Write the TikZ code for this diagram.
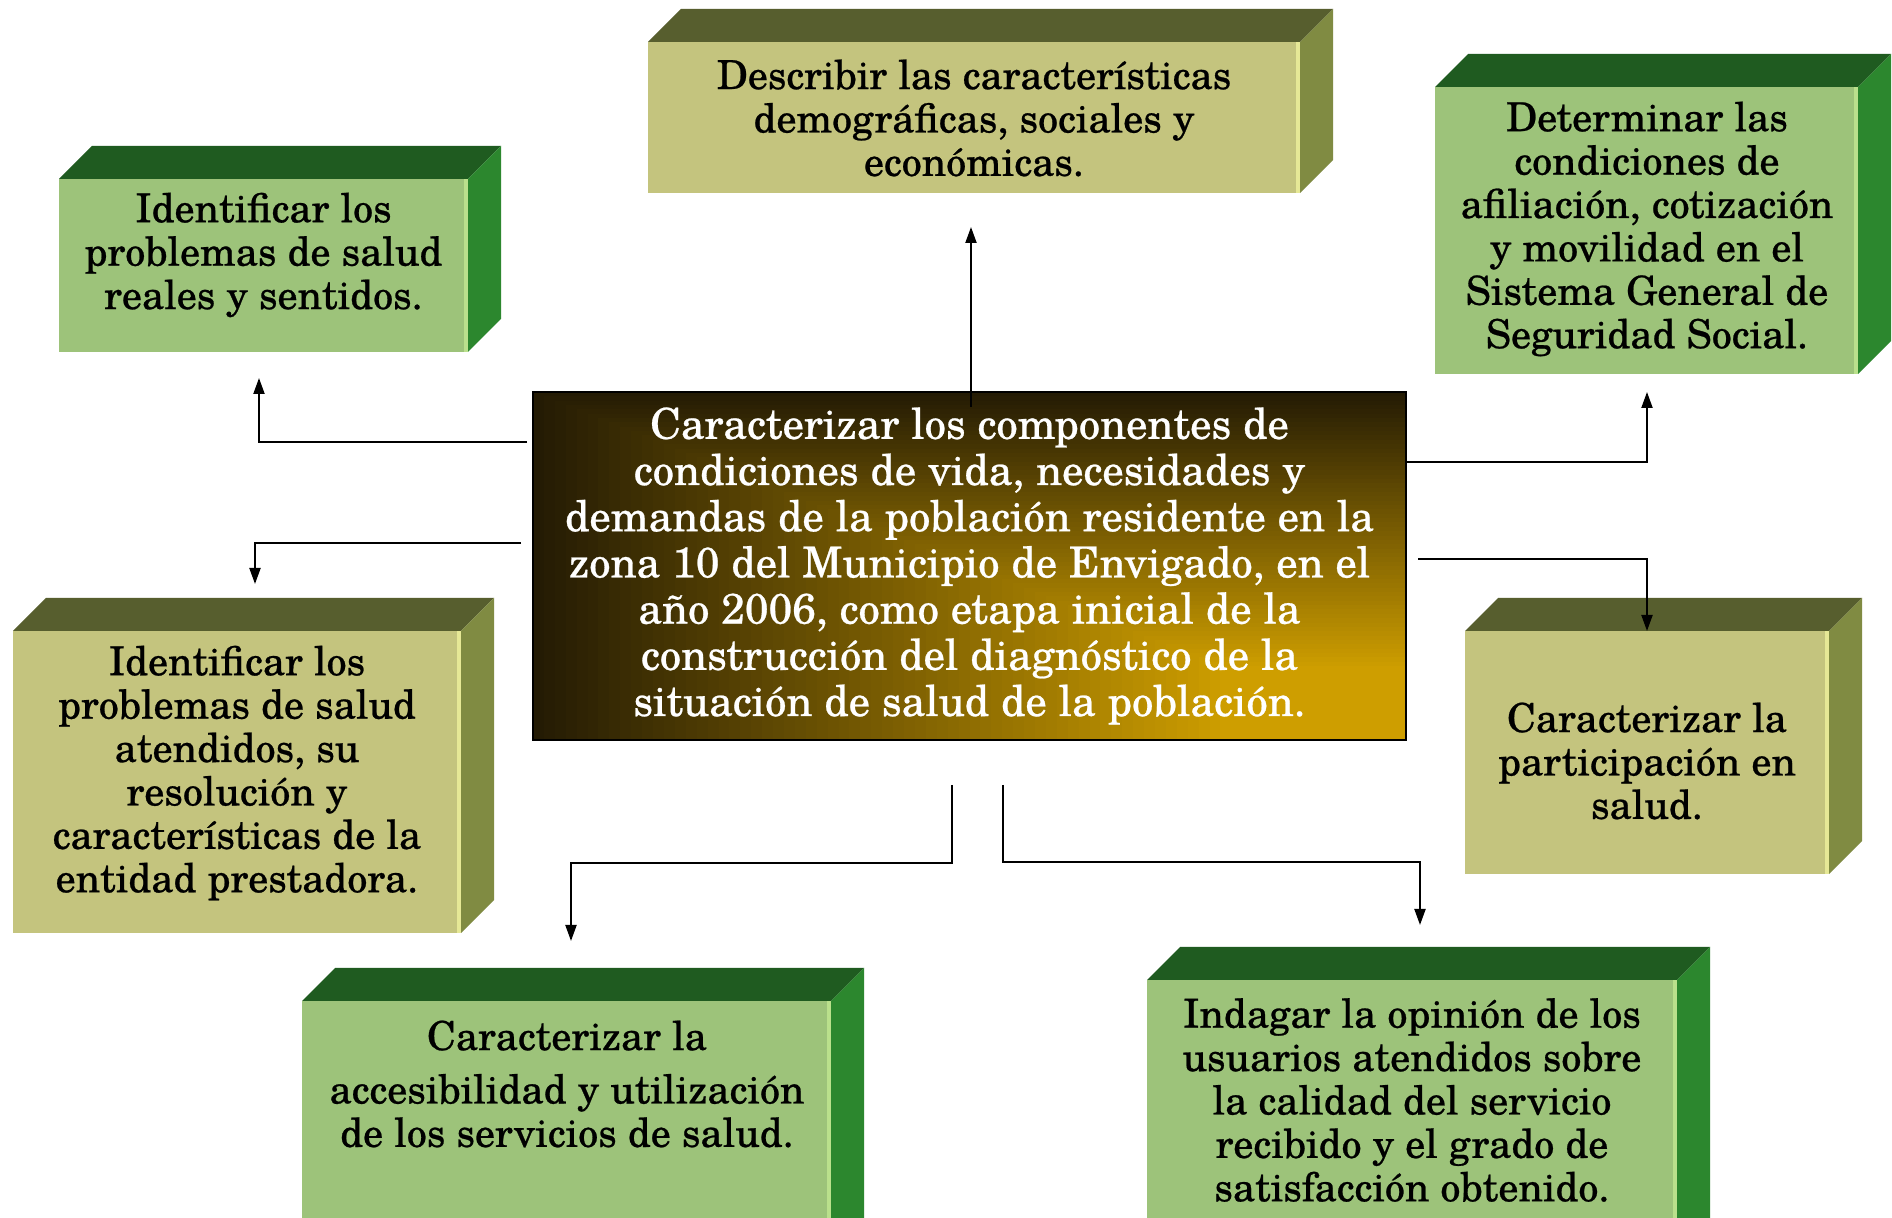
\documentclass[tikz,border=0pt]{standalone}
\usepackage{fontspec}
\setmainfont{texgyreschola-regular.otf}[BoldFont=texgyreschola-bold.otf, FakeBold=0.6]
\usetikzlibrary{arrows.meta}
\definecolor{gfront}{RGB}{157,195,122}
\definecolor{gtop}{RGB}{31,91,32}
\definecolor{gside}{RGB}{44,135,46}
\definecolor{gedge}{RGB}{186,224,140}
\definecolor{ofront}{RGB}{196,196,126}
\definecolor{otop}{RGB}{87,94,46}
\definecolor{oside}{RGB}{128,139,66}
\definecolor{oedge}{RGB}{230,232,150}
\definecolor{cdark}{RGB}{36,27,4}
\definecolor{cgold}{RGB}{206,158,0}
\newcommand\mycube[5]{%
  \fill[#1top] (#2,#3) -- (#2+33,#3-33) -- (#4+33,#3-33) -- (#4,#3) -- cycle;
  \fill[#1side] (#4,#3) -- (#4+33,#3-33) -- (#4+33,#5-33) -- (#4,#5) -- cycle;
  \fill[#1front] (#2,#3) rectangle (#4,#5);
  \fill[#1edge] (#4-4,#3) rectangle (#4,#5);
}
\tikzset{
  boxtext/.style={align=center, inner sep=0pt, font=\fontsize{20}{21.7}\selectfont},
  centertext/.style={align=center, text=white, draw=black, line width=1.3pt,
    minimum width=436.5pt, minimum height=174pt, inner sep=0pt,
    font=\fontsize{21.3}{23.1}\selectfont},
  conn/.style={line width=1pt, -{Triangle[length=8pt,width=5.5pt]}}
}
\begin{document}
\begin{tikzpicture}[x=0.5pt,y=-0.5pt]
\useasboundingbox (0,0) rectangle (1892,1218);
\clip (0,0) rectangle (1892,1218);
\fill[white] (0,0) rectangle (1892,1218);

% boxes
\mycube{g}{59}{179}{468}{352}
\node[boxtext] (A) at (263.5,255) {Identificar los\\problemas de salud\\reales y sentidos.};

\mycube{o}{648}{42}{1300}{193}
\node[boxtext] (B) at (974,118) {Describir las características\\demográficas, sociales y\\económicas.};

\mycube{g}{1435}{87}{1858}{374}
\node[boxtext] (C) at (1647,229) {Determinar las\\condiciones de\\afiliación, cotización\\y movilidad en el\\Sistema General de\\Seguridad Social.};

\mycube{o}{13}{631}{461}{933}
\node[boxtext] (E) at (237,773) {Identificar los\\problemas de salud\\atendidos, su\\resolución y\\características de la\\entidad prestadora.};

\mycube{o}{1465}{631}{1829}{874}
\node[boxtext] (F) at (1647,761) {Caracterizar la\\participación en\\salud.};

\mycube{g}{302}{1001}{831}{1300}
\node[boxtext] (G) at (567,1084) {Caracterizar la\\[5pt]accesibilidad y utilización\\de los servicios de salud.};

\mycube{g}{1147}{980}{1677}{1300}
\node[boxtext] (H) at (1412,1100) {Indagar la opinión de los\\usuarios atendidos sobre\\la calidad del servicio\\recibido y el grado de\\satisfacción obtenido.};

% central box: rectangular gradient from the bottom-right corner
\foreach \i in {0,...,79}{
  \pgfmathsetmacro\t{1-\i/80}
  \pgfmathsetmacro\p{min(100,125*\i/79)}
  \fill[cgold!\p!cdark] (1406-873*\t,740-348*\t) rectangle (1406,740);
}
\node[centertext] (D) at (969.5,566) {Caracterizar los componentes de\\condiciones de vida, necesidades y\\demandas de la población residente en la\\zona 10 del Municipio de Envigado, en el\\año 2006, como etapa inicial de la\\construcción del diagnóstico de la\\situación de salud de la población.};

% connector points
\coordinate (s1) at (971,407);  \coordinate (t1) at (971,227);
\coordinate (s2) at (527,442);  \coordinate (t2) at (259,378);
\coordinate (s3) at (521,543);  \coordinate (t3) at (255,584);
\coordinate (s4) at (1406,462); \coordinate (t4) at (1647,392);
\coordinate (s5) at (1418,559); \coordinate (t5) at (1647,631);
\coordinate (s6) at (952,785);  \coordinate (t6) at (571,941);
\coordinate (s7) at (1003,785); \coordinate (t7) at (1420,925);

\draw[conn] (s1) -- (t1);
\draw[conn] (s2) -| (t2);
\draw[conn] (s3) -| (t3);
\draw[conn] (s4) -| (t4);
\draw[conn] (s5) -| (t5);
\draw[conn] (s6) -- (952,863) -| (t6);
\draw[conn] (s7) -- (1003,862) -| (t7);
\end{tikzpicture}
\end{document}
